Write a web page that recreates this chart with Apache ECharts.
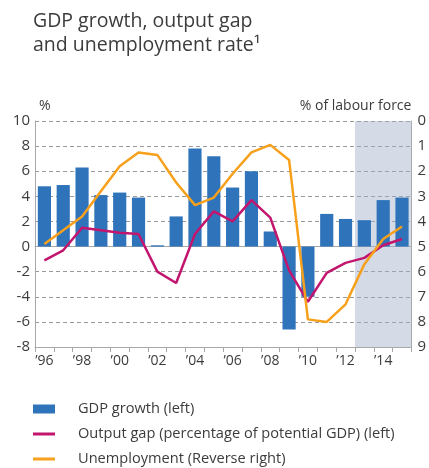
<!DOCTYPE html>
<html>
<head>
<meta charset="utf-8">
<script src="https://cdn.jsdelivr.net/npm/echarts@6/dist/echarts.min.js"></script>
<style>html,body{margin:0;padding:0;background:#fff}#c{width:429px;height:468px}</style>
</head>
<body>
<div id="c"></div>
<script>
var years = ['1996','1997','1998','1999','2000','2001','2002','2003','2004','2005','2006','2007','2008','2009','2010','2011','2012','2013','2014','2015'];
var gdpGrowth = [4.8, 4.9, 6.3, 4.1, 4.3, 3.9, 0.1, 2.4, 7.8, 7.2, 4.7, 6.0, 1.2, -6.6, -4.0, 2.6, 2.2, 2.1, 3.7, 3.9];
var outputGap = [-1.1, -0.3, 1.5, 1.3, 1.1, 1.0, -2.0, -2.9, 1.0, 2.8, 2.0, 3.7, 2.3, -1.9, -4.4, -2.1, -1.3, -0.9, 0.1, 0.6];
var unemployment = [4.9, 4.35, 3.8, 2.8, 1.8, 1.25, 1.35, 2.45, 3.35, 3.05, 2.1, 1.25, 0.95, 1.55, 7.9, 8.0, 7.3, 5.7, 4.7, 4.2];
var forecastSpan = [17, 20];
var leftTicks = {min: -8, max: 10, interval: 2};
var rightTicks = {min: 0, max: 9, interval: 1};

var chart = echarts.init(document.getElementById('c'), null, {renderer: 'canvas'});
var font = '"Open Sans", "Noto Sans", sans-serif';
var textCol = '#3c3c3c';
var axisCol = '#a8a8a8';
chart.setOption({
  animation: false,
  textStyle: {fontFamily: font},
  title: {
    text: 'GDP growth, output gap\nand unemployment rate\u00b9',
    left: 33, top: 9, padding: 0,
    textStyle: {fontFamily: font, fontSize: 19.5, fontWeight: 'normal', color: textCol, lineHeight: 24}
  },
  legend: {
    orient: 'vertical', left: 33, top: 401, itemGap: 9, padding: 0, height: 100,
    itemWidth: 22, itemHeight: 9,
    textStyle: {fontFamily: font, fontSize: 14.6, color: textCol, lineHeight: 16, padding: [0, 0, 0, 18]},
    data: [
      {name: 'GDP growth (left)', icon: 'rect'},
      {name: 'Output gap (percentage of potential GDP) (left)', icon: 'path://M0,0L22,0L22,3L0,3Z'},
      {name: 'Unemployment (Reverse right)', icon: 'path://M0,0L22,0L22,3L0,3Z'}
    ]
  },
  grid: {left: 35, right: 17, top: 121, bottom: 121, containLabel: false},
  xAxis: [{
    type: 'category', data: years,
    axisLine: {show: true, onZero: false, lineStyle: {color: axisCol, width: 1}},
    axisTick: {show: true, interval: 0, length: 5, lineStyle: {color: axisCol}},
    axisLabel: {
      interval: 1, color: textCol, fontSize: 14, margin: 7,
      formatter: function (v) { return '\u2019' + v.slice(2); }
    },
    splitLine: {show: false}
  }, {
    type: 'value', min: 0, max: years.length, position: 'top',
    axisLine: {show: true, lineStyle: {color: axisCol, width: 1}},
    axisTick: {show: false}, axisLabel: {show: false}, splitLine: {show: false}
  }],
  yAxis: [{
    type: 'value', min: leftTicks.min, max: leftTicks.max, interval: leftTicks.interval,
    name: '%', nameLocation: 'end', nameGap: 8,
    nameTextStyle: {align: 'left', color: textCol, fontSize: 14, padding: [0, 0, 0, 4]},
    axisLine: {show: true, lineStyle: {color: axisCol}},
    axisTick: {show: false},
    axisLabel: {color: textCol, fontSize: 15, margin: 5},
    splitLine: {show: true, lineStyle: {color: '#9a9a9a', type: [4, 3], width: 1}}
  }, {
    type: 'value', min: rightTicks.min, max: rightTicks.max, interval: rightTicks.interval,
    inverse: true, position: 'right',
    name: '% of labour force', nameLocation: 'start', nameGap: 8,
    nameTextStyle: {align: 'right', color: textCol, fontSize: 14},
    axisLine: {show: true, lineStyle: {color: axisCol}},
    axisTick: {show: false},
    axisLabel: {color: textCol, fontSize: 15, margin: 6},
    splitLine: {show: false}
  }],
  series: [{
    type: 'line', xAxisIndex: 1, yAxisIndex: 0, data: [], z: 1, silent: true,
    markArea: {
      silent: true,
      itemStyle: {color: 'rgba(160,176,200,0.45)'},
      data: [[{xAxis: forecastSpan[0]}, {xAxis: forecastSpan[1]}]]
    }
  }, {
    name: 'GDP growth (left)', type: 'bar', data: gdpGrowth, yAxisIndex: 0,
    barCategoryGap: '30%', itemStyle: {color: '#2f74bb'}, z: 3
  }, {
    name: 'Output gap (percentage of potential GDP) (left)', type: 'line', data: outputGap, yAxisIndex: 0,
    symbol: 'none', lineStyle: {color: '#c2166e', width: 2.5}, itemStyle: {color: '#c2166e'}, z: 4
  }, {
    name: 'Unemployment (Reverse right)', type: 'line', data: unemployment, yAxisIndex: 1,
    symbol: 'none', lineStyle: {color: '#f7a01c', width: 2.5}, itemStyle: {color: '#f7a01c'}, z: 5
  }]
});
</script>
</body>
</html>
